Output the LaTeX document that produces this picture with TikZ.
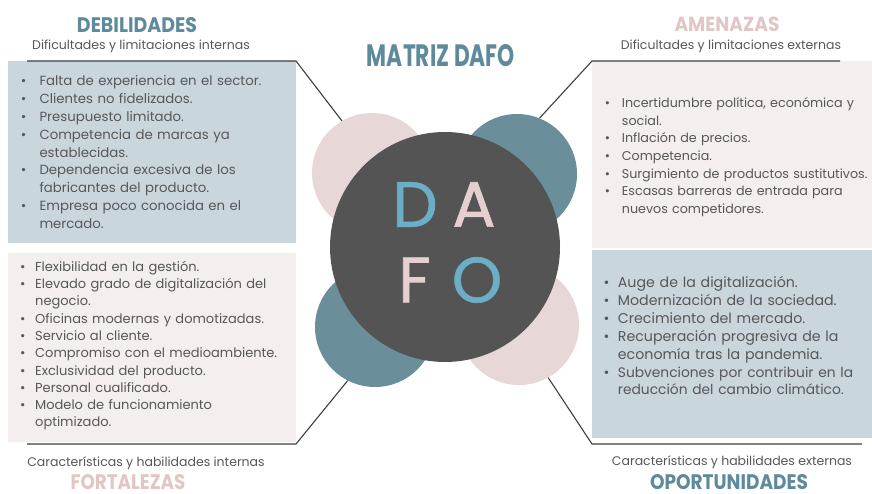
\documentclass[tikz,border=0pt]{standalone}
\usepackage{fontspec}
\setmainfont{Poppins}
\newfontfamily\dafofont[FakeBold=1]{Poppins}
\usepackage{graphicx}
\definecolor{tealT}{HTML}{5E8B9B}
\definecolor{tealC}{HTML}{6A8F9B}
\definecolor{pinkT}{HTML}{E2C6C6}
\definecolor{pinkC}{HTML}{E8D7D7}
\definecolor{boxB}{HTML}{C9D7DD}
\definecolor{boxP}{HTML}{F4EEEE}
\definecolor{txtc}{HTML}{575757}
\definecolor{darkC}{HTML}{545454}
\definecolor{lineC}{HTML}{3E3E3E}
\definecolor{letB}{HTML}{6BAEC6}
\definecolor{letP}{HTML}{E6CFCF}
\newlength\dafohang
\newcommand\dafoitem[1]{\par\noindent\hangindent=\dafohang\hangafter=1\strut\makebox[\dafohang][l]{•}#1\par}
\tikzset{
  listtxt/.style={anchor=north west, inner sep=0pt, text width=300pt, align=left, text=txtc},
  title/.style={anchor=base, inner sep=0pt, font=\bfseries},
  subt/.style={anchor=base, inner sep=0pt, text=txtc, font=\fontsize{12.5}{14}\selectfont},
  smallc/.style={circle, inner sep=0pt, minimum size=120pt},
  letter/.style={inner sep=0pt, font=\dafofont\fontsize{64}{64}\selectfont},
  conn/.style={draw=lineC, line width=1.1pt}
}
\begin{document}
\begin{tikzpicture}[x=1pt,y=-1pt]
\useasboundingbox (0,0) rectangle (872,494);
\fill[white] (0,0) rectangle (872,494);
% boxes
\fill[boxB] (8,61) rectangle (296,243);
\fill[boxP] (592,61) rectangle (872,248);
\fill[boxP] (8,253) rectangle (296,442);
\fill[boxB] (592,250) rectangle (872,438);
% circles
\node[smallc, fill=pinkC] (cTL) at (372,173) {};
\node[smallc, fill=tealC] (cTR) at (517,174) {};
\node[smallc, fill=tealC] (cBL) at (375,327) {};
\node[smallc, fill=pinkC] (cBR) at (519,325) {};
\node[circle, inner sep=0pt, minimum size=230pt, fill=darkC] (cM) at (445,247) {};
\node[letter, text=letB] (lD) at (415,204.5) {D};
\node[letter, text=letP] (lA) at (474,204.5) {A};
\node[letter, text=letP] (lF) at (414.5,280) {F};
\node[letter, text=letB] (lO) at (477,280) {O};
% connectors
\coordinate (tlA) at (27,61); \coordinate (tlB) at (296,61);
\coordinate (trA) at (840,61); \coordinate (trB) at (592,61);
\coordinate (blA) at (27,444); \coordinate (blB) at (296,444);
\coordinate (brA) at (862,444); \coordinate (brB) at (592,444);
\draw[conn] (tlA) -- (tlB) -- (cTL.120);
\draw[conn] (trA) -- (trB) -- (cTR.68);
\draw[conn] (blA) -- (blB) -- (cBL.243);
\draw[conn] (brA) -- (brB) -- (cBR.299);
% titles
\node[title, text=tealT] (tD) at (137,33) {\resizebox{120pt}{15pt}{DEBILIDADES}};
\node[title, text=pinkT] (tA) at (727,32) {\resizebox{105pt}{14.5pt}{AMENAZAS}};
\node[title, text=pinkT] (tF) at (128,489) {\resizebox{115pt}{15pt}{FORTALEZAS}};
\node[title, text=tealT] (tO) at (729,489) {\resizebox{158pt}{15pt}{OPORTUNIDADES}};
\node[title, text=tealT] (tM) at (441,67) {\resizebox{148pt}{22pt}{MATRIZ DAFO}};
% subtitles
\node[subt] (sD) at (141,50) {Dificultades y limitaciones internas};
\node[subt] (sA) at (731,50) {Dificultades y limitaciones externas};
\node[subt] (sF) at (146,466) {Características y habilidades internas};
\node[subt] (sO) at (732,465) {Características y habilidades externas};
% lists
\node[listtxt, font=\fontsize{13.3}{17.8}\selectfont] (lDeb) at (20.6,68) {%
\setlength\dafohang{18.7pt}%
\dafoitem{Falta de experiencia en el sector.}
\dafoitem{Clientes no fidelizados.}
\dafoitem{Presupuesto limitado.}
\dafoitem{Competencia de marcas ya\newline establecidas.}
\dafoitem{Dependencia excesiva de los\newline fabricantes del producto.}
\dafoitem{Empresa poco conocida en el\newline mercado.}};
\node[listtxt, font=\fontsize{12.7}{17.7}\selectfont] (lAme) at (604.6,89.5) {%
\setlength\dafohang{17.1pt}%
\dafoitem{Incertidumbre política, económica y\newline social.}
\dafoitem{Inflación de precios.}
\dafoitem{Competencia.}
\dafoitem{Surgimiento de productos sustitutivos.}
\dafoitem{Escasas barreras de entrada para\newline nuevos competidores.}};
\node[listtxt, font=\fontsize{13}{17.3}\selectfont] (lFor) at (20,253.7) {%
\setlength\dafohang{15pt}%
\dafoitem{Flexibilidad en la gestión.}
\dafoitem{Elevado grado de digitalización del\newline negocio.}
\dafoitem{Oficinas modernas y domotizadas.}
\dafoitem{Servicio al cliente.}
\dafoitem{Compromiso con el medioambiente.}
\dafoitem{Exclusividad del producto.}
\dafoitem{Personal cualificado.}
\dafoitem{Modelo de funcionamiento\newline optimizado.}};
\node[listtxt, font=\fontsize{14.2}{17.8}\selectfont] (lOpo) at (603.5,270) {%
\setlength\dafohang{14.2pt}%
\dafoitem{Auge de la digitalización.}
\dafoitem{Modernización de la sociedad.}
\dafoitem{Crecimiento del mercado.}
\dafoitem{Recuperación progresiva de la\newline economía tras la pandemia.}
\dafoitem{\fontsize{13.8}{17.8}\selectfont Subvenciones por contribuir en la\newline reducción del cambio climático.}};
\end{tikzpicture}
\end{document}
